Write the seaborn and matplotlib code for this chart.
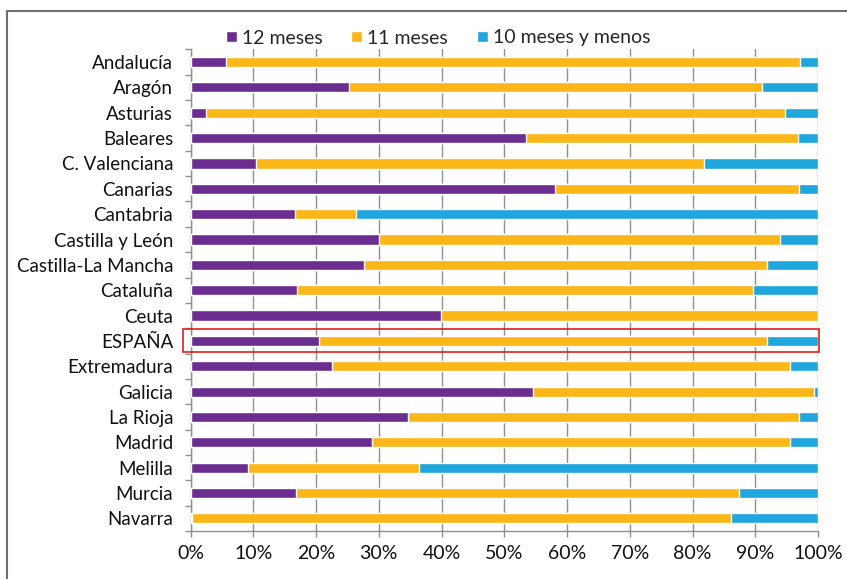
import matplotlib
matplotlib.use("Agg")
import matplotlib.pyplot as plt
import seaborn as sns
import numpy as np
import pandas as pd
from matplotlib.patches import Rectangle
from matplotlib.lines import Line2D
from matplotlib.ticker import FixedLocator

categories = ["Andalucía", "Aragón", "Asturias", "Baleares", "C. Valenciana", "Canarias",
              "Cantabria", "Castilla y León", "Castilla-La Mancha", "Cataluña", "Ceuta",
              "ESPAÑA", "Extremadura", "Galicia", "La Rioja", "Madrid", "Melilla",
              "Murcia", "Navarra"]
m12 = [5.6, 25.3, 2.5, 53.4, 10.4, 58.1, 16.6, 30.0, 27.7, 17.0, 39.9,
       20.5, 22.5, 54.6, 34.7, 29.0, 9.1, 16.8, 0.3]
m11 = [91.5, 65.7, 92.3, 43.4, 71.4, 38.8, 9.7, 64.0, 64.2, 72.6, 60.1,
       71.3, 73.1, 44.7, 62.2, 66.6, 27.3, 70.6, 85.9]
m10 = [2.9, 9.0, 5.2, 3.2, 18.2, 3.1, 73.7, 6.0, 8.1, 10.4, 0.0,
       8.2, 4.4, 0.7, 3.1, 4.4, 63.6, 12.6, 13.8]
series_names = ["12 meses", "11 meses", "10 meses y menos"]
colors = ["#6b2d8f", "#fbb617", "#1fa6dd"]
x_ticks = list(range(0, 101, 10))
x_tick_labels = [f"{v}%" for v in x_ticks]

df = pd.DataFrame({"cat": categories, "m12": m12, "m11": m11, "m10": m10})
df["c1"] = df["m12"]
df["c2"] = df["m12"] + df["m11"]
df["c3"] = df["c2"] + df["m10"]

sns.set_theme(style="white")
plt.rcParams["font.family"] = ["Lato", "DejaVu Sans"]

fig = plt.figure(figsize=(8.47, 5.79), dpi=100)
ax = fig.add_axes([190.5 / 847, 1 - 531 / 579, (818 - 190.5) / 847, (531 - 49.4) / 579])

grid_c = "#8f8f8f"
for col, c, name in [("c3", colors[2], series_names[2]),
                     ("c2", colors[1], series_names[1]),
                     ("c1", colors[0], series_names[0])]:
    sns.barplot(data=df, y="cat", x=col, color=c, orient="h", width=0.4,
                ax=ax, label=name, saturation=1, zorder=3)

ax.set_xlim(0, 100)
ax.set_ylim(len(categories) - 0.5, -0.5)
ax.set_xlabel("")
ax.set_ylabel("")
ax.xaxis.set_major_locator(FixedLocator(x_ticks))
ax.set_xticklabels(x_tick_labels)
ax.grid(axis="x", color=grid_c, linewidth=1.0, zorder=0)
ax.set_axisbelow(True)

for s in ["top", "right"]:
    ax.spines[s].set_visible(False)
for s in ["left", "bottom"]:
    ax.spines[s].set_color(grid_c)
    ax.spines[s].set_linewidth(1.0)

ax.tick_params(axis="x", which="major", length=4, color=grid_c, width=1.0,
               direction="out", bottom=True, pad=6, labelsize=14, labelcolor="#111111")
ax.tick_params(axis="y", which="major", length=0, pad=12.5, labelsize=13.5,
               labelcolor="#111111")
ax.yaxis.set_minor_locator(FixedLocator(np.arange(-0.5, len(categories), 1.0)))
ax.tick_params(axis="y", which="minor", length=4, color=grid_c, width=1.0,
               direction="out", left=True)

# Highlight box around ESPAÑA
idx = categories.index("ESPAÑA")
ax.add_patch(Rectangle((-1.15, idx - 0.455), 101.25, 0.91, fill=False,
                       edgecolor="#e0201c", linewidth=1.2, clip_on=False, zorder=5))

handles, labels = ax.get_legend_handles_labels()
order = [labels.index(n) for n in series_names]
fig.legend([handles[i] for i in order], [labels[i] for i in order],
           loc="center", bbox_to_anchor=(438 / 847, 1 - 38 / 579), ncol=3,
           frameon=False, fontsize=14, handlelength=0.55, handleheight=0.55,
           handletextpad=0.25, columnspacing=1.5)
if ax.legend_ is not None:
    ax.legend_.remove()

# Outer frame (top and left edges)
fig.add_artist(Line2D([6.5 / 847, 1.0], [1 - 11 / 579, 1 - 11 / 579],
                      color="#707070", linewidth=1.5, transform=fig.transFigure))
fig.add_artist(Line2D([6.5 / 847, 6.5 / 847], [0, 1 - 11 / 579],
                      color="#707070", linewidth=1.5, transform=fig.transFigure))

fig.savefig("out.png", dpi=100)
